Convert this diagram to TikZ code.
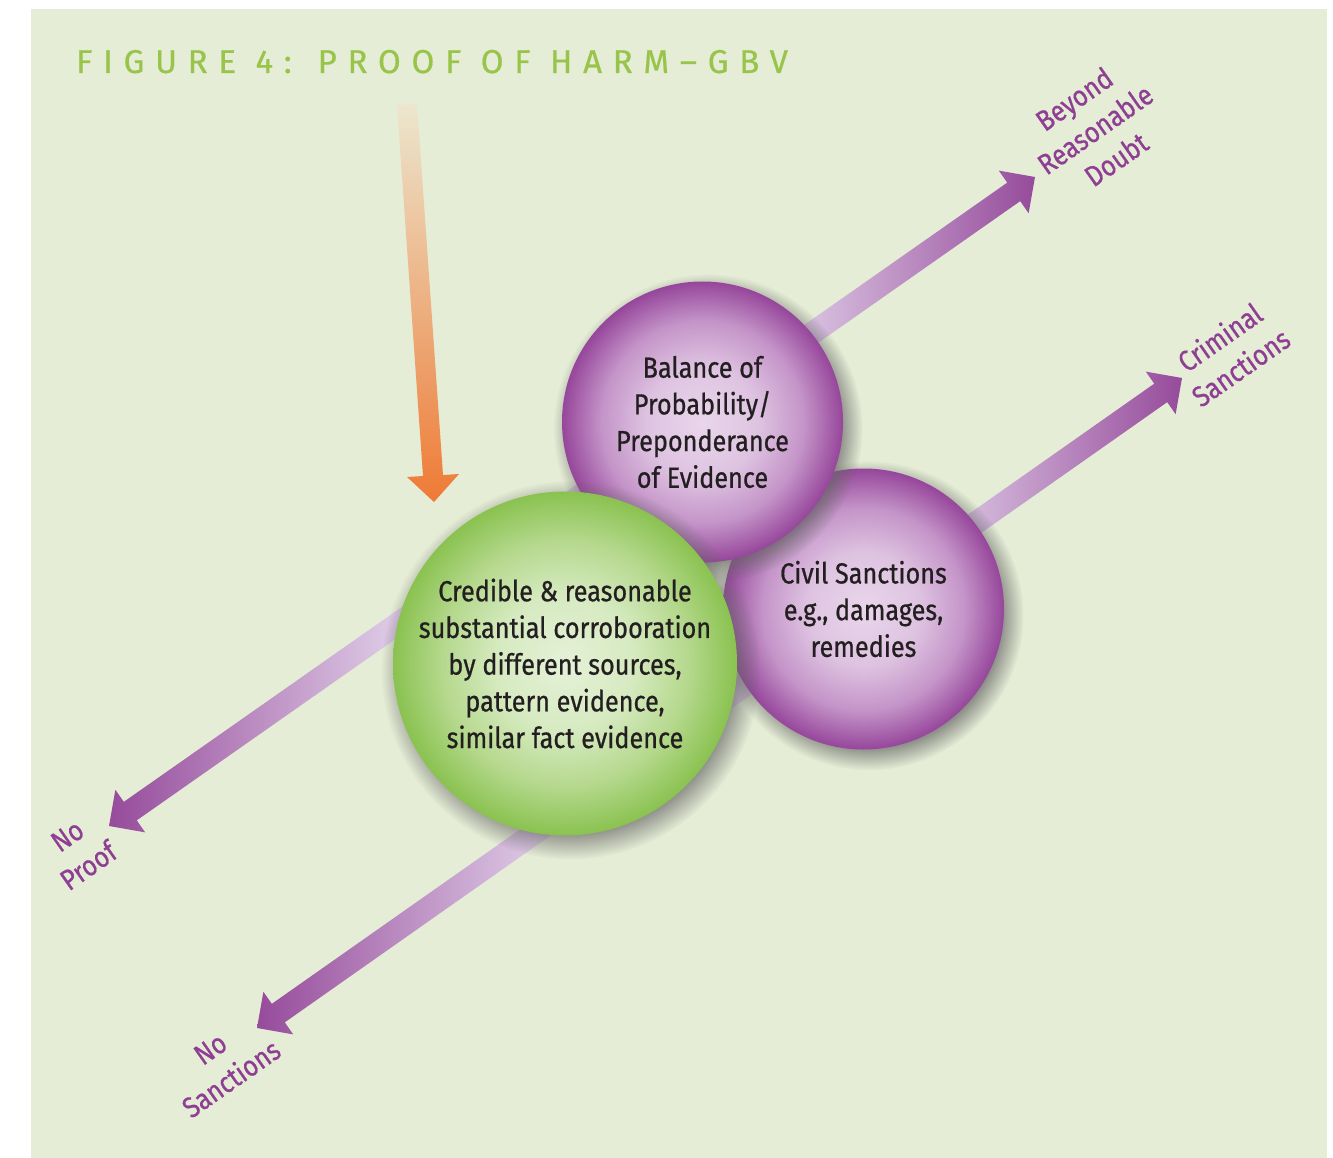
\documentclass[tikz,border=0pt]{standalone}
\usepackage{fontspec}
\usetikzlibrary{calc,shadows,fadings}
\setmainfont{Fira Sans}
\newfontfamily\circfont[FakeStretch=0.87,FakeBold=0.7]{Fira Sans}
\newfontfamily\titlefont[LetterSpace=32.5,FakeBold=0.5]{Fira Sans}

\definecolor{bg}{RGB}{229,237,214}
\definecolor{titlegreen}{RGB}{152,196,74}
\definecolor{ink}{RGB}{35,31,32}
\definecolor{plab}{RGB}{142,63,147}
\definecolor{pc0}{RGB}{233,214,235}
\definecolor{pc1}{RGB}{222,195,225}
\definecolor{pc2}{RGB}{196,148,200}
\definecolor{pc3}{RGB}{150,70,155}
\definecolor{gc0}{RGB}{229,241,216}
\definecolor{gc1}{RGB}{214,234,192}
\definecolor{gc2}{RGB}{180,216,140}
\definecolor{gc3}{RGB}{138,194,80}
\definecolor{adark}{RGB}{150,75,155}
\definecolor{alight}{RGB}{220,200,228}
\definecolor{or0}{RGB}{236,230,206}
\definecolor{or1}{RGB}{240,206,166}
\definecolor{or2}{RGB}{238,122,53}

\pgfdeclareradialshading{purpleball}{\pgfpoint{0bp}{0bp}}{color(0bp)=(pc0); color(10bp)=(pc1); color(18bp)=(pc2); color(25bp)=(pc3); color(50bp)=(pc3)}
\pgfdeclareradialshading{greenball}{\pgfpoint{0bp}{0bp}}{color(0bp)=(gc0); color(10bp)=(gc1); color(18bp)=(gc2); color(25bp)=(gc3); color(50bp)=(gc3)}
\pgfdeclarehorizontalshading{arrowshade}{100bp}{color(0bp)=(adark); color(25bp)=(adark); color(40bp)=(alight); color(62bp)=(alight); color(75bp)=(adark); color(100bp)=(adark)}

\tikzset{
  ballshadow/.style={circular drop shadow={shadow xshift=5pt, shadow yshift=-6pt, shadow scale=1.1, opacity=0.7, fill=black!60}},
  pball/.style={circle, inner sep=0pt, draw=none, minimum size=#1, shade, shading=purpleball, ballshadow},
  gball/.style={circle, inner sep=0pt, draw=none, minimum size=#1, shade, shading=greenball, ballshadow},
  ctext/.style={align=center, text=ink, inner sep=0pt, font=\circfont\fontsize{29}{36.7}\selectfont},
  lab/.style={align=center, text=plab, inner sep=0pt, rotate=35, font=\circfont\fontsize{29}{36.7}\selectfont},
  ttl/.style={anchor=base west, text=titlegreen, inner sep=0pt, font=\titlefont\fontsize{33}{40}\selectfont}
}

\newcommand\purplearrow[2]{%
  \shade[shading=arrowshade] (#1)
    -- ($(#1)+(-35:26)+(55:26)$) -- ($(#1)+(-35:26)+(55:11.3)$)
    -- ($(#2)+(145:26)+(55:11.3)$) -- ($(#2)+(145:26)+(55:26)$)
    -- (#2)
    -- ($(#2)+(145:26)+(235:26)$) -- ($(#2)+(145:26)+(235:11.3)$)
    -- ($(#1)+(-35:26)+(235:11.3)$) -- ($(#1)+(-35:26)+(235:26)$) -- cycle;}

\begin{document}
\begin{tikzpicture}[x=1pt,y=-1pt]
\useasboundingbox (0,0) rectangle (1333,1158);
\fill[bg] (31,9) rectangle (1327,1158);

\node[ttl] (title) at (76,73) {FIGURE 4: PROOF OF HARM–GBV};

% orange arrow
\coordinate (otip) at (434,502);
\shade[top color=or0, middle color=or1, bottom color=or2]
  (397,105) -- (417,104) -- (443,475) -- (459,474) -- (otip) -- (407,477) -- (423,476) -- cycle;

% purple double arrows
\coordinate (noproof) at (109,826);
\coordinate (beyond) at (1035,177);
\coordinate (nosanc) at (257,1028);
\coordinate (crim) at (1182,378);
\purplearrow{noproof}{beyond}
\purplearrow{nosanc}{crim}

% balls
\node[pball=281] (civil) at (863.5,609) {};
\node[pball=281] (balance) at (702.5,422) {};
\node[gball=344] (cred) at (565,663.5) {};

\node[ctext] (tbalance) at (balance) {Balance of\\Probability/\\Preponderance\\of Evidence};
\node[ctext] (tcivil) at (civil) {Civil Sanctions\\e.g., damages,\\remedies};
\node[ctext] (tcred) at (cred) {Credible \& reasonable\\substantial corroboration\\by different sources,\\pattern evidence,\\similar fact evidence};

% labels
\node[lab] (lbeyond) at (1095,129) {Beyond\\Reasonable\\Doubt};
\node[lab] (lcrim) at (1230,352) {Criminal\\Sanctions};
\node[lab] (lnoproof) at (78,851) {No\\Proof};
\node[lab] (lnosanc) at (221,1064) {No\\Sanctions};
\end{tikzpicture}
\end{document}
